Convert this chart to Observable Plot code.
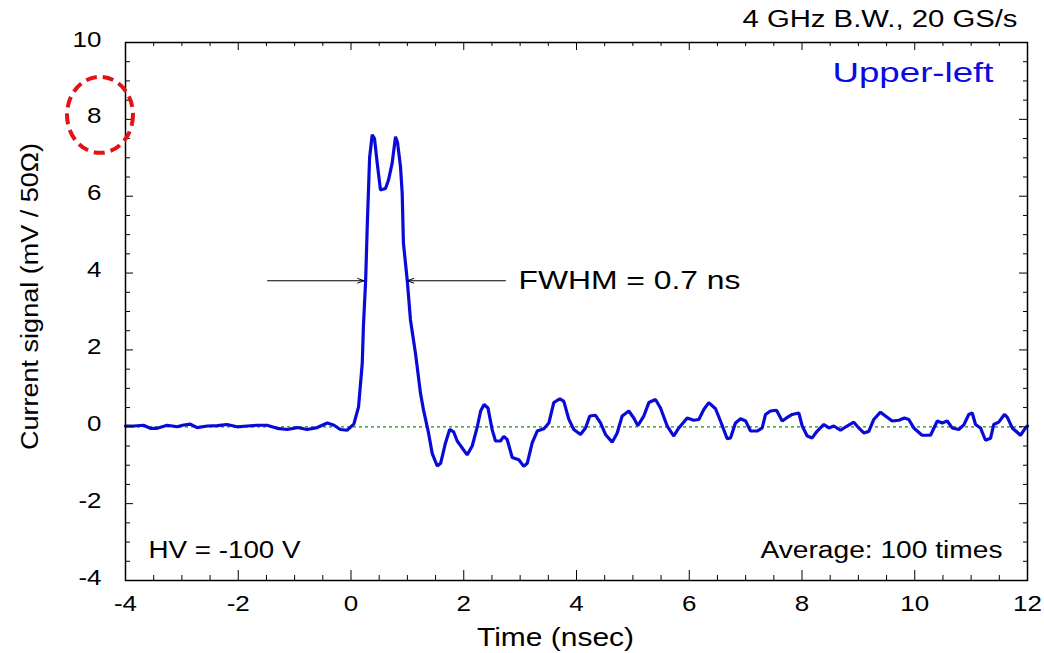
<!DOCTYPE html>
<html><head><meta charset="utf-8">
<script src="https://cdn.jsdelivr.net/npm/d3@7"></script>
<script src="https://cdn.jsdelivr.net/npm/@observablehq/plot@0.6"></script>
<style>body{margin:0;background:#fff} svg{display:block}</style>
</head><body><div id="chart"></div>
<script>
const time = [
-4.0,-3.85,-3.68,-3.56,-3.44,-3.26,-3.08,-2.99,-2.85,-2.73,-2.55,-2.37,-2.2,-2.02,-1.84,-1.66,-1.49,-1.31,-1.13,-0.95,-0.78,-0.6,-0.42,-0.3,-0.19,-0.07,0.05,
0.134,0.2,0.22,0.26,0.29,0.33,0.376,0.417,0.465,0.523,0.612,0.665,0.73,0.79,0.825,0.878,0.908,0.93,0.997,1.055,1.144,1.233,
1.286,1.375,1.44,1.53,1.59,1.676,1.75,1.82,1.884,2.06,2.15,2.24,2.30,2.36,2.43,2.505,2.563,2.652,2.71,2.77,2.86,2.977,3.065,3.126,3.214,3.303,3.42,3.51,3.597,3.704,3.775,3.863,3.952,
4.071,4.16,4.236,4.337,4.426,4.514,4.633,4.722,4.81,4.928,5.016,5.087,5.194,5.283,5.401,5.49,5.609,5.726,5.815,5.964,6.08,6.17,6.258,6.347,6.466,6.554,
6.673,6.732,6.82,6.91,7.0,7.087,7.205,7.294,7.353,7.44,7.548,7.649,7.725,7.826,7.943,8.004,8.092,8.181,8.27,8.387,8.476,8.564,8.683,8.80,8.919,9.007,9.096,9.185,9.273,9.392,9.48,9.6,9.717,9.818,9.894,9.983,
10.13,10.28,10.4,10.487,10.576,10.664,10.78,10.87,10.958,11.02,11.078,11.166,11.255,11.344,11.402,11.49,11.59,11.64,11.73,11.876,11.965,12.0
];
const signal = [
0.02,0.02,0.04,-0.04,-0.04,0.04,0.0,0.04,0.07,-0.02,0.02,0.03,0.06,0.0,0.02,0.04,0.04,-0.04,-0.07,-0.02,-0.07,-0.02,0.1,0.04,-0.07,-0.09,0.07,
0.52,1.66,2.6,3.82,5.3,7.0,7.6,7.5,6.86,6.16,6.2,6.42,6.86,7.55,7.4,6.77,6.08,4.78,3.82,2.78,1.91,0.87,
0.44,-0.16,-0.69,-1.02,-0.95,-0.42,-0.07,-0.13,-0.37,-0.73,-0.5,0.0,0.41,0.58,0.49,-0.08,-0.37,-0.37,-0.25,-0.33,-0.8,-0.86,-1.03,-0.95,-0.42,-0.11,-0.05,0.1,0.63,0.73,0.66,0.2,-0.07,
-0.2,-0.03,0.28,0.3,0.1,-0.2,-0.4,-0.16,0.28,0.41,0.23,0.03,0.28,0.63,0.71,0.49,0.02,-0.24,-0.03,0.23,0.17,0.19,0.45,0.63,0.47,0.15,
-0.31,-0.29,0.1,0.21,0.15,-0.11,-0.11,-0.03,0.32,0.41,0.43,0.15,0.23,0.32,0.36,0.02,-0.24,-0.29,-0.11,0.06,-0.03,0.02,-0.09,0.02,0.12,-0.03,-0.16,-0.12,0.19,0.38,0.28,0.15,0.17,0.23,0.19,-0.03,
-0.22,-0.22,0.15,0.1,0.15,-0.03,-0.07,0.05,0.32,0.36,0.06,-0.03,-0.35,-0.3,0.06,0.12,0.32,0.25,-0.03,-0.22,-0.03,0.02
];
const xMajor = [-4,-2,0,2,4,6,8,10,12];
const yMajor = [-4,-2,0,2,4,6,8,10];
const xMinor = d3.range(-4, 12.01, 0.5).filter(v => v % 2 !== 0);
const yMinor = d3.range(-4, 10.01, 0.5).filter(v => v % 2 !== 0);
const fwhmLevel = [3.8];
const arrowsData = [
  {x1: -1.48, x2: 0.23, y: 3.8},
  {x1: 2.74, x2: 1.0, y: 3.8}
];

const data = time.map((t, i) => ({t, v: signal[i]}));

const W = 1044, H = 653;
const mL = 125, mR = 17, mT = 42, mB = 73;
const fw = W - mL - mR, fh = H - mT - mB;
const font = "'Liberation Sans', Arial, sans-serif";

const chart = Plot.plot({
  width: W, height: H,
  marginLeft: mL, marginRight: mR, marginTop: mT, marginBottom: mB,
  style: {fontFamily: font, fontSize: "22px", color: "#000", background: "#fff"},
  x: {domain: [-4, 12]},
  y: {domain: [-4, 10]},
  marks: [
    Plot.ruleY([0], {stroke: "#1f8a1f", strokeWidth: 1.3, strokeDasharray: "3,3"}),
    Plot.line(data, {x: "t", y: "v", stroke: "#0a0ad8", strokeWidth: 3.2, strokeLinejoin: "miter"}),
    Plot.arrow(arrowsData, {x1: "x1", x2: "x2", y1: "y", y2: "y", stroke: "#000", strokeWidth: 1, headLength: 10, headAngle: 40}),
    Plot.text(["FWHM = 0.7 ns"], {x: 2.97, y: fwhmLevel[0], text: d => d, textAnchor: "start", lineAnchor: "middle", fontSize: 26}),
    Plot.frame({stroke: "#000", strokeWidth: 1.5}),
    // inward ticks
    Plot.ruleX(xMajor, {stroke: "#000", insetTop: fh - 10}),
    Plot.ruleX(xMinor, {stroke: "#000", insetTop: fh - 5}),
    Plot.ruleX(xMajor, {stroke: "#000", insetBottom: fh - 8}),
    Plot.ruleX(xMinor, {stroke: "#000", insetBottom: fh - 4}),
    Plot.ruleY(yMajor, {stroke: "#000", insetRight: fw - 8}),
    Plot.ruleY(yMinor, {stroke: "#000", insetRight: fw - 5}),
    Plot.ruleY(yMajor, {stroke: "#000", insetLeft: fw - 8}),
    Plot.ruleY(yMinor, {stroke: "#000", insetLeft: fw - 4}),
    Plot.axisX({ticks: xMajor, tickSize: 0, tickPadding: 15, tickFormat: d => String(d), label: null, fontSize: 22}),
    Plot.axisY({ticks: yMajor, tickSize: 0, tickPadding: 24, tickFormat: d => String(d), label: null, fontSize: 22, dy: -3}),
    Plot.text(["Time (nsec)"], {frameAnchor: "bottom", dx: -21, dy: 57, textAnchor: "middle", lineAnchor: "middle", text: d => d, fontSize: 25}),
    Plot.text(["Current signal (mV / 50Ω)"], {frameAnchor: "left", dx: -95, dy: -15, rotate: -90, textAnchor: "middle", lineAnchor: "middle", text: d => d, fontSize: 23}),
    Plot.text(["Upper-left"], {frameAnchor: "top-right", dx: -34, dy: 31, textAnchor: "end", lineAnchor: "middle", fill: "#0a0ae6", fontSize: 28}),
    Plot.text(["4 GHz B.W., 20 GS/s"], {frameAnchor: "top-right", dx: -10, dy: -23, textAnchor: "end", lineAnchor: "middle", fontSize: 23}),
    Plot.text(["HV = -100 V"], {frameAnchor: "bottom-left", dx: 23, dy: -30, textAnchor: "start", lineAnchor: "middle", fontSize: 23}),
    Plot.text(["Average: 100 times"], {frameAnchor: "bottom-right", dx: -25, dy: -30, textAnchor: "end", lineAnchor: "middle", fontSize: 23})
  ]
});

// red dashed highlight ellipse around the "8" tick label
const sx = chart.scale("x"), sy = chart.scale("y");
d3.select(chart).append("ellipse")
  .attr("cx", sx.apply(-4) - 25)
  .attr("cy", sy.apply(8) - 4)
  .attr("rx", 33).attr("ry", 38)
  .attr("fill", "none").attr("stroke", "#e41212")
  .attr("stroke-width", 4).attr("stroke-dasharray", "11,6");

document.getElementById("chart").appendChild(chart);

// horizontally stretched lettering, as in the original figure
const textWidths = {
  "4 GHz B.W., 20 GS/s": 275,
  "Upper-left": 161,
  "FWHM = 0.7 ns": 222,
  "HV = -100 V": 152,
  "Average: 100 times": 242,
  "Time (nsec)": 157,
  "Current signal (mV / 50Ω)": 307
};
d3.select(chart).selectAll("text").each(function() {
  const s = this.textContent;
  const len = this.getComputedTextLength();
  const target = textWidths[s] != null ? textWidths[s] : len * 1.18;
  this.setAttribute("textLength", target);
  this.setAttribute("lengthAdjust", "spacingAndGlyphs");
});
</script>
</body></html>
